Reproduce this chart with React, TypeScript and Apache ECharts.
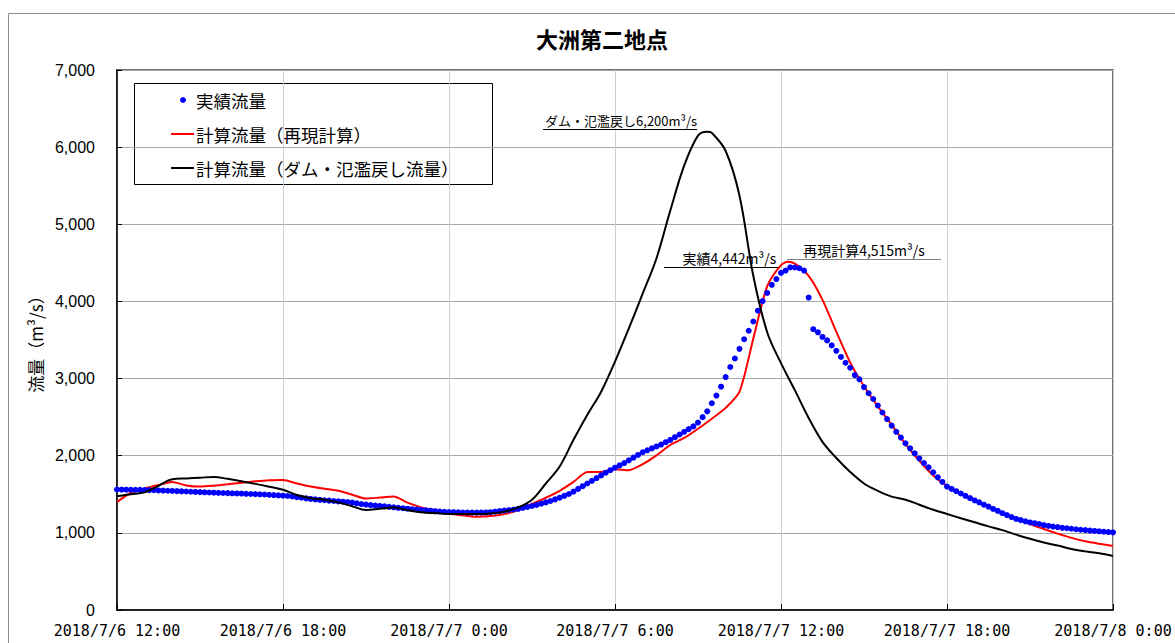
import React, { useEffect, useRef } from "react";
import * as echarts from "echarts";

// x axis runs in minutes from 2018/7/6 12:00 to 2018/7/8 0:00
const X_MAX_MIN = 2160;
const X_TICK_MIN = 360;
const xTickLabels = [
  "2018/7/6 12:00",
  "2018/7/6 18:00",
  "2018/7/7 0:00",
  "2018/7/7 6:00",
  "2018/7/7 12:00",
  "2018/7/7 18:00",
  "2018/7/8 0:00",
];

const Y_MAX = 7000;
const Y_TICK = 1000;

// 実績流量 : 10-minute observations (m3/s)
const OBS_STEP_MIN = 10;
const observedFlow = [
  1562, 1561, 1560, 1559, 1558, 1557, 1555, 1554, 1552, 1550,
  1548, 1546, 1543, 1541, 1538, 1536, 1533, 1531, 1528, 1526,
  1523, 1521, 1519, 1517, 1515, 1513, 1511, 1509, 1506, 1504,
  1502, 1500, 1497, 1493, 1490, 1486, 1482, 1478, 1471, 1463,
  1455, 1447, 1440, 1434, 1428, 1423, 1418, 1413, 1408, 1404,
  1400, 1392, 1383, 1373, 1366, 1360, 1354, 1349, 1343, 1337,
  1331, 1325, 1319, 1313, 1307, 1302, 1297, 1292, 1287, 1282,
  1277, 1273, 1270, 1268, 1266, 1264, 1263, 1262, 1262, 1263,
  1265, 1268, 1274, 1282, 1289, 1296, 1303, 1312, 1323, 1335,
  1348, 1362, 1378, 1395, 1413, 1434, 1456, 1479, 1504, 1535,
  1570, 1605, 1640, 1675, 1710, 1745, 1780, 1812, 1845, 1875,
  1905, 1940, 1975, 2010, 2045, 2070, 2095, 2120, 2145, 2175,
  2205, 2240, 2275, 2310, 2345, 2380, 2430, 2500, 2575, 2680,
  2780, 2895, 3020, 3150, 3260, 3385, 3510, 3620, 3740, 3880,
  4005, 4110, 4215, 4290, 4370, 4400, 4442, 4440, 4430, 4400,
  4050, 3640, 3600, 3540, 3495, 3430, 3360, 3280, 3205, 3140,
  3045, 2990, 2890, 2810, 2735, 2650, 2560, 2475, 2390, 2310,
  2235, 2160, 2095, 2030, 1965, 1905, 1850, 1785, 1720, 1660,
  1600, 1570, 1540, 1510, 1480, 1450, 1420, 1395, 1365, 1340,
  1310, 1285, 1255, 1230, 1205, 1180, 1165, 1150, 1135, 1125,
  1115, 1100, 1090, 1082, 1075, 1065, 1060, 1053, 1047, 1040,
  1036, 1030, 1025, 1020, 1015, 1010, 1005,
];

// 計算流量 : half-hourly model output (m3/s) plus the peak instant
const CALC_STEP_MIN = 30;
const reproducedFlow = [
  1400, 1520, 1575, 1620, 1660, 1615, 1600, 1612, 1630, 1650,
  1668, 1682, 1685, 1640, 1600, 1572, 1545, 1495, 1445, 1458,
  1470, 1392, 1330, 1290, 1252, 1225, 1208, 1218, 1245, 1295,
  1375, 1455, 1545, 1660, 1790, 1790, 1825, 1812, 1890, 2005,
  2140, 2230, 2350, 2480, 2620, 2830, 3520, 4196, 4470, 4490,
  4330, 4020, 3605, 3210, 2900, 2640, 2400, 2150, 1935, 1745,
  1610, 1510, 1420, 1340, 1262, 1190, 1115, 1050, 990, 935,
  890, 858, 830,
];
const reproducedPeak = { minute: 1455, flow: 4515 };

const damFreeFlow = [
  1475, 1500, 1525, 1610, 1695, 1705, 1715, 1725, 1700, 1668,
  1635, 1598, 1558, 1490, 1450, 1430, 1395, 1345, 1295, 1312,
  1329, 1295, 1268, 1255, 1245, 1243, 1243, 1252, 1275, 1330,
  1430, 1640, 1860, 2206, 2530, 2830, 3220, 3650, 4100, 4560,
  5180, 5760, 6150, 6185, 5950, 5370, 4330, 3600, 3200, 2850,
  2490, 2180, 1970, 1790, 1640, 1545, 1470, 1430, 1365, 1300,
  1245, 1190, 1137, 1084, 1035, 977, 923, 875, 835, 790,
  760, 735, 700,
];
const damFreePeak = { minute: 1280, flow: 6200 };

// Peak annotations: [start minute, end minute, flow level of the rule]
const damFreeNote = { text: "ダム・氾濫戻し6,200m³/s", from: 924, to: 1258, level: 6231 };
const observedNote = { text: "実績4,442m³/s", from: 1186, to: 1434, level: 4442 };
const reproducedNote = { text: "再現計算4,515m³/s", from: 1453, to: 1787, level: 4546 };

const JP_FONT = "'Noto Sans CJK JP', 'Noto Sans', sans-serif";

function toPoints(values: number[], step: number) {
  return values.map((v, i) => [i * step, v]);
}

function withPeak(values: number[], step: number, peak: { minute: number; flow: number }) {
  const pts = toPoints(values, step);
  pts.push([peak.minute, peak.flow]);
  pts.sort((a, b) => a[0] - b[0]);
  return pts;
}

function thousands(v: number) {
  return String(v).replace(/\B(?=(\d{3})+(?!\d))/g, ",");
}

function noteLine(
  note: { text: string; from: number; to: number; level: number },
  position: string,
  color: string,
  fontSize: number
) {
  return {
    silent: true,
    symbol: ["none", "none"],
    lineStyle: { color, width: 1, type: "solid" },
    label: {
      show: true,
      position,
      formatter: note.text,
      color: "#000",
      fontSize,
      fontFamily: JP_FONT,
      distance: 2,
    },
    emphasis: { disabled: true },
    data: [[{ coord: [note.from, note.level] }, { coord: [note.to, note.level] }]],
  };
}

export default function App() {
  const ref = useRef<HTMLDivElement>(null);

  useEffect(() => {
    if (!ref.current) return;
    const chart = echarts.init(ref.current, undefined, { renderer: "svg" });

    const legendX = 134;
    const legendY = 83;
    const rowGap = 34;
    const legendText = (text: string, row: number) => ({
      type: "text",
      style: {
        text,
        x: legendX + 62,
        y: legendY + 17 + rowGap * row,
        verticalAlign: "middle",
        fontSize: 17.5,
        fontFamily: JP_FONT,
        fill: "#000",
      },
    });

    chart.setOption({
      animation: false,
      backgroundColor: "#fff",
      title: {
        text: "大洲第二地点",
        left: 597,
        top: 22,
        textAlign: "center",
        textStyle: { fontSize: 22, fontWeight: "bold", fontFamily: JP_FONT, color: "#000" },
      },
      grid: {
        left: 117,
        top: 70,
        width: 996,
        height: 540,
        show: true,
        borderColor: "#404040",
        borderWidth: 1.5,
        backgroundColor: "transparent",
      },
      xAxis: {
        type: "value",
        min: 0,
        max: X_MAX_MIN,
        interval: X_TICK_MIN,
        axisLine: { show: true, lineStyle: { color: "#000", width: 1.5 } },
        axisTick: { show: true, inside: true, length: 6, lineStyle: { color: "#000" } },
        axisLabel: {
          formatter: (v: number) => xTickLabels[Math.round(v / X_TICK_MIN)] ?? "",
          fontFamily: "'DejaVu Sans Mono', monospace",
          fontSize: 15,
          color: "#000",
          margin: 13,
          showMinLabel: true,
          showMaxLabel: true,
        },
        splitLine: { show: true, lineStyle: { color: "#d0d0d0", width: 1 } },
      },
      yAxis: {
        type: "value",
        min: 0,
        max: Y_MAX,
        interval: Y_TICK,
        name: "流量（m³/s）",
        nameLocation: "middle",
        nameRotate: 90,
        nameGap: 73,
        nameTextStyle: { fontSize: 17, fontFamily: JP_FONT, color: "#000" },
        axisLine: { show: true, lineStyle: { color: "#000", width: 1.5 } },
        axisTick: { show: true, inside: true, length: 5, lineStyle: { color: "#000" } },
        axisLabel: {
          formatter: (v: number) => thousands(v),
          fontFamily: "'Liberation Sans', Arial, sans-serif",
          fontSize: 16,
          color: "#000",
          margin: 22,
        },
        splitLine: { show: true, lineStyle: { color: "#a8a8a8", width: 1 } },
      },
      series: [
        {
          name: "計算流量（再現計算）",
          type: "line",
          data: withPeak(reproducedFlow, CALC_STEP_MIN, reproducedPeak),
          showSymbol: false,
          smooth: 0.25,
          lineStyle: { color: "#ff0000", width: 2 },
          itemStyle: { color: "#ff0000" },
          z: 2,
          markLine: noteLine(reproducedNote, "insideMiddleTop", "#808080", 14),
        },
        {
          name: "実績流量",
          type: "scatter",
          data: toPoints(observedFlow, OBS_STEP_MIN),
          symbol: "circle",
          symbolSize: 6,
          itemStyle: { color: "#0000ff", opacity: 1 },
          z: 3,
          markLine: noteLine(observedNote, "insideEndTop", "#000", 14),
        },
        {
          name: "計算流量（ダム・氾濫戻し流量）",
          type: "line",
          data: withPeak(damFreeFlow, CALC_STEP_MIN, damFreePeak),
          showSymbol: false,
          smooth: 0.35,
          lineStyle: { color: "#000", width: 2 },
          itemStyle: { color: "#000" },
          z: 4,
          markLine: noteLine(damFreeNote, "insideStartTop", "#000", 13),
        },
      ],
      graphic: [
        // outer chart frame
        {
          type: "rect",
          shape: { x: 8.5, y: 13.5, width: 1300, height: 800 },
          style: { fill: "none", stroke: "#8c8c8c", lineWidth: 1 },
          silent: true,
          z: 0,
        },
        // legend box
        {
          type: "group",
          z: 100,
          children: [
            {
              type: "rect",
              shape: { x: legendX + 0.5, y: legendY + 0.5, width: 358, height: 101 },
              style: { fill: "#fff", stroke: "#000", lineWidth: 1 },
            },
            {
              type: "circle",
              shape: { cx: legendX + 49, cy: legendY + 17, r: 3 },
              style: { fill: "#0000ff" },
            },
            legendText("実績流量", 0),
            {
              type: "line",
              shape: { x1: legendX + 37, y1: legendY + 17 + rowGap, x2: legendX + 60, y2: legendY + 17 + rowGap },
              style: { stroke: "#ff0000", lineWidth: 2 },
            },
            legendText("計算流量（再現計算）", 1),
            {
              type: "line",
              shape: { x1: legendX + 37, y1: legendY + 17 + rowGap * 2, x2: legendX + 60, y2: legendY + 17 + rowGap * 2 },
              style: { stroke: "#000", lineWidth: 2 },
            },
            legendText("計算流量（ダム・氾濫戻し流量）", 2),
          ],
        },
      ],
    });

    return () => {
      chart.dispose();
    };
  }, []);

  return (
    <div
      ref={ref}
      style={{ position: "fixed", left: 0, top: 0, width: 1175, height: 643, background: "#fff" }}
    />
  );
}
